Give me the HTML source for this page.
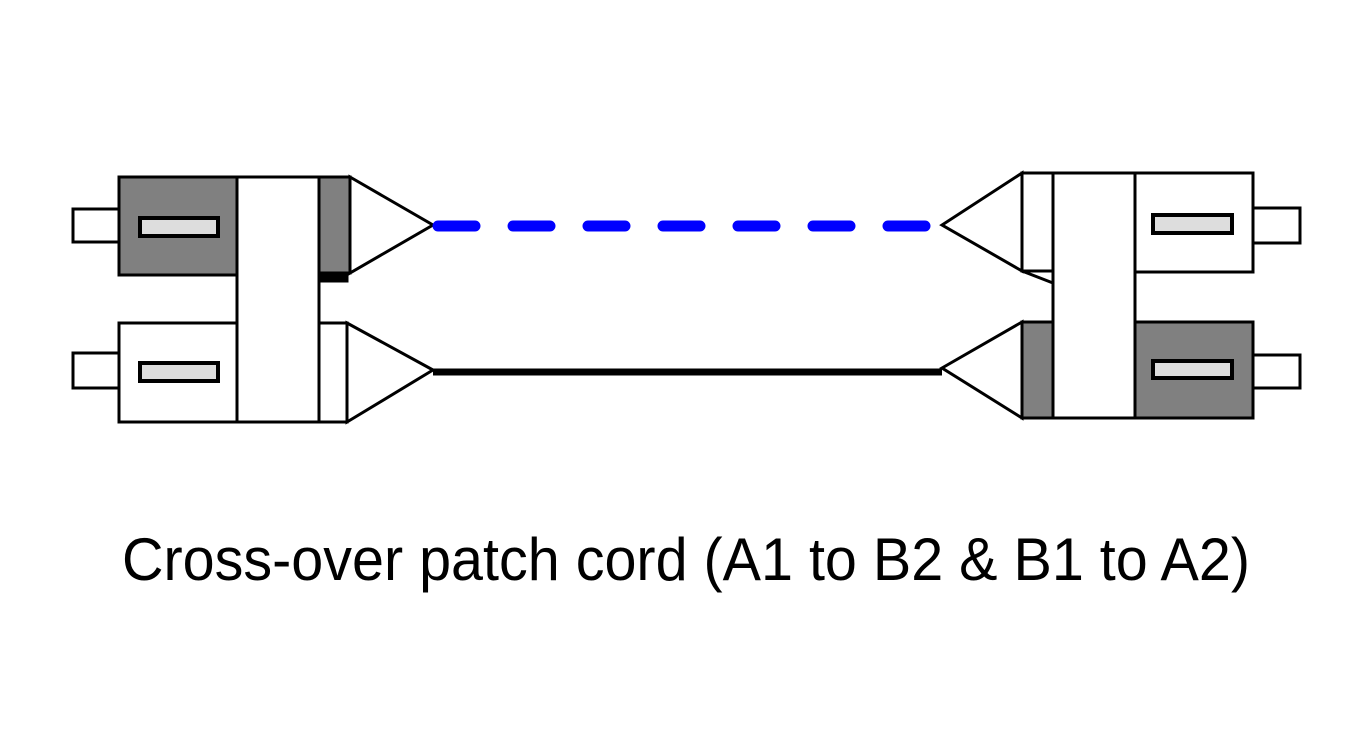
<!DOCTYPE html>
<html><head><style>html,body{margin:0;padding:0;background:#fff;}svg{display:block}</style></head>
<body>
<svg width="1352" height="744" viewBox="0 0 1352 744" xmlns="http://www.w3.org/2000/svg">
<g stroke="#000" stroke-width="3" stroke-linejoin="miter">
<!-- Left connector -->
<rect x="73" y="209" width="46" height="33" fill="#fff"/>
<rect x="73" y="353" width="46" height="35" fill="#fff"/>
<rect x="119" y="177" width="118" height="98" fill="#808080"/>
<rect x="119" y="323" width="118" height="99" fill="#fff"/>
<rect x="237" y="177" width="82" height="245" fill="#fff"/>
<rect x="319" y="177" width="31" height="96" fill="#808080"/>
<rect x="319" y="273" width="28" height="8" fill="#000"/>
<rect x="319" y="323" width="28" height="99" fill="#fff"/>
<polygon points="350,177 433,225 350,273" fill="#fff"/>
<polygon points="347,323 433,370 347,422" fill="#fff"/>
<rect x="140" y="218" width="78" height="18" fill="#ddd" stroke-width="4"/>
<rect x="140" y="363" width="78" height="18" fill="#ddd" stroke-width="4"/>
<!-- Right connector -->
<rect x="1253" y="208" width="47" height="35" fill="#fff"/>
<rect x="1253" y="355" width="47" height="33" fill="#fff"/>
<rect x="1135" y="173" width="118" height="99" fill="#fff"/>
<rect x="1135" y="322" width="118" height="96" fill="#808080"/>
<rect x="1053" y="173" width="82" height="245" fill="#fff"/>
<rect x="1022" y="173" width="31" height="98" fill="#fff"/>
<rect x="1022" y="322" width="31" height="96" fill="#808080"/>
<polygon points="1022,173 942,225 1022,271" fill="#fff"/>
<polyline points="1022,271 1053,283" fill="none"/>
<polygon points="1022,322 942,368 1022,418" fill="#fff"/>
<rect x="1153" y="215" width="79" height="18" fill="#ddd" stroke-width="4"/>
<rect x="1153" y="361" width="79" height="17" fill="#ddd" stroke-width="4"/>
</g>
<line x1="438" y1="226" x2="925" y2="226" stroke="#0000ff" stroke-width="11" stroke-linecap="round" stroke-dasharray="37 38"/>
<line x1="433" y1="372" x2="942" y2="372" stroke="#000" stroke-width="7"/>
<text x="122" y="580" font-family="Liberation Sans, sans-serif" font-size="60" textLength="1128" lengthAdjust="spacingAndGlyphs" fill="#000">Cross-over patch cord (A1 to B2 &amp; B1 to A2)</text>
</svg>
</body></html>
